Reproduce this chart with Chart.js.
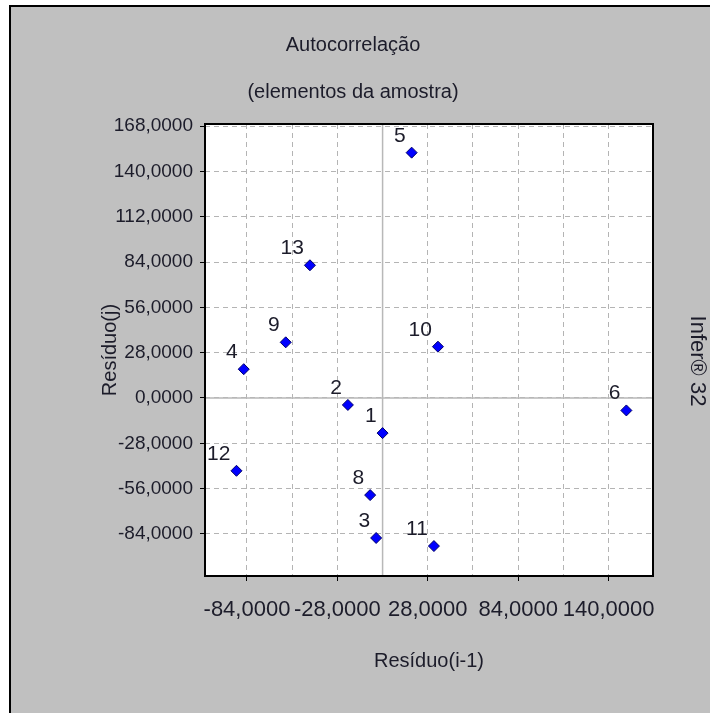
<!DOCTYPE html>
<html>
<head>
<meta charset="utf-8">
<script src="https://cdn.jsdelivr.net/npm/chart.js@4.4.1/dist/chart.umd.min.js"></script>
<style>
  html, body { margin: 0; padding: 0; background: #fff; }
  #wrap { width: 710px; height: 713px; }
</style>
</head>
<body>
<div id="wrap"><canvas id="acf" width="710" height="713"></canvas></div>
<script>
// Lag plot data: residual(i-1) vs residual(i), labelled by i
const pointIds = ['1', '2', '3', '4', '5', '6', '8', '9', '10', '11', '12', '13'];
const residPrev = [0, -21.5, -4, -86, 18, 151, -7.7, -60, 34.3, 31.8, -90.5, -45];
const residCurr = [-21.7, -4.3, -86.5, 17.8, 151.6, -7.7, -60, 34.4, 31.7, -91.5, -45, 82];

// Axis ticks
const xGridValues = [-84, -56, -28, 0, 28, 56, 84, 112, 140];
const xLabelValues = [-84, -28, 28, 84, 140];
const yTickValues = [-84, -56, -28, 0, 28, 56, 84, 112, 140, 168];

const FONT = '"Liberation Sans", Arial, sans-serif';
const INK = '#1c1c2a';
const fmt = v => v.toFixed(4).replace('.', ',');

const points = residPrev.map((x, i) => ({ x: x, y: residCurr[i] }));

// Background, frame, zero lines, point numbers and titles
const decor = {
  id: 'decor',
  beforeDraw(chart) {
    const c = chart.ctx, a = chart.chartArea;
    c.save();
    c.fillStyle = '#fff';
    c.fillRect(0, 0, chart.width, chart.height);
    c.fillStyle = '#c0c0c0';
    c.fillRect(10, 6, chart.width - 10, chart.height - 6);
    c.fillStyle = '#000';
    c.fillRect(9, 5, chart.width - 9, 2);
    c.fillRect(9, 5, 2, chart.height - 5);
    c.fillStyle = '#fff';
    c.fillRect(a.left, a.top, a.right - a.left, a.bottom - a.top);
    c.restore();
  },
  beforeDatasetsDraw(chart) {
    const c = chart.ctx, a = chart.chartArea;
    const x0 = chart.scales.x.getPixelForValue(0);
    const y0 = chart.scales.y.getPixelForValue(0);
    c.save();
    c.strokeStyle = '#b8b8b8';
    c.lineWidth = 1.5;
    c.beginPath();
    c.moveTo(x0, a.top); c.lineTo(x0, a.bottom);
    c.moveTo(a.left, y0); c.lineTo(a.right, y0);
    c.stroke();
    c.restore();
  },
  afterDatasetsDraw(chart) {
    const c = chart.ctx;
    const meta = chart.getDatasetMeta(0);
    c.save();
    c.fillStyle = INK;
    c.font = '21px ' + FONT;
    c.textAlign = 'right';
    c.textBaseline = 'alphabetic';
    meta.data.forEach((pt, i) => {
      c.fillText(pointIds[i], pt.x - 6, pt.y - 11);
    });
    c.restore();
  },
  afterDraw(chart) {
    const c = chart.ctx, a = chart.chartArea;
    c.save();
    c.strokeStyle = '#000';
    c.lineWidth = 2;
    c.strokeRect(a.left, a.top, a.right - a.left, a.bottom - a.top);

    c.fillStyle = INK;
    c.font = '20px ' + FONT;
    c.textAlign = 'center';
    c.textBaseline = 'middle';
    c.fillText('Autocorrelação', 353, 45);
    c.fillText('(elementos da amostra)', 353, 92);
    c.fillText('Resíduo(i-1)', (a.left + a.right) / 2, 661);

    c.save();
    c.translate(110, (a.top + a.bottom) / 2);
    c.rotate(-Math.PI / 2);
    c.fillText('Resíduo(j)', 0, 0);
    c.restore();

    c.font = '22px ' + FONT;
    c.save();
    c.translate(697, 361);
    c.rotate(Math.PI / 2);
    c.fillText('Infer® 32', 0, 0);
    c.restore();
    c.restore();
  }
};

new Chart(document.getElementById('acf'), {
  type: 'scatter',
  data: {
    datasets: [{
      data: points,
      pointStyle: 'rectRot',
      pointRadius: 5.5,
      backgroundColor: '#0000ff',
      borderColor: '#00006a',
      borderWidth: 1
    }]
  },
  options: {
    responsive: false,
    animation: false,
    events: [],
    layout: { padding: { left: 0, top: 124, right: 57, bottom: 0 } },
    plugins: { legend: { display: false }, tooltip: { enabled: false } },
    scales: {
      x: {
        type: 'linear',
        min: -110,
        max: 167.5,
        afterBuildTicks: s => { s.ticks = xGridValues.map(v => ({ value: v })); },
        afterFit: s => { s.height = 137; },
        ticks: {
          autoSkip: false,
          maxRotation: 0,
          minRotation: 0,
          padding: 16,
          color: INK,
          font: { family: FONT, size: 22 },
          callback: v => xLabelValues.includes(v) ? fmt(v) : ''
        },
        grid: {
          color: '#b4b4b4',
          tickLength: 5,
          tickWidth: 1,
          tickColor: ctx => (ctx.tick && xLabelValues.includes(ctx.tick.value)) ? '#000' : 'rgba(0,0,0,0)'
        },
        border: { display: false, dash: [5, 4] }
      },
      y: {
        type: 'linear',
        min: -110,
        max: 169.3,
        afterBuildTicks: s => { s.ticks = yTickValues.map(v => ({ value: v })); },
        afterFit: s => { s.width = 205; },
        ticks: {
          autoSkip: false,
          padding: 7,
          color: INK,
          font: { family: FONT, size: 19 },
          callback: v => fmt(v)
        },
        grid: {
          color: '#b4b4b4',
          tickLength: 5,
          tickWidth: 1,
          tickColor: '#000'
        },
        border: { display: false, dash: [5, 4] }
      }
    }
  },
  plugins: [decor]
});
</script>
</body>
</html>
